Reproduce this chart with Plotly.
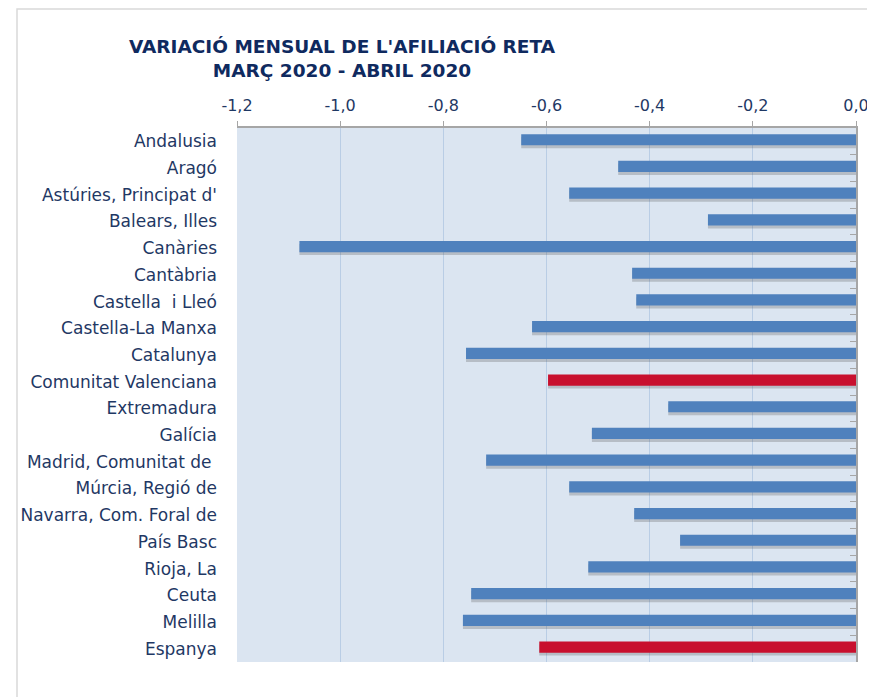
import plotly.graph_objects as go

categories = ["Andalusia", "Aragó", "Astúries, Principat d'", "Balears, Illes", "Canàries",
              "Cantàbria", "Castella  i Lleó", "Castella-La Manxa", "Catalunya",
              "Comunitat Valenciana", "Extremadura", "Galícia", "Madrid, Comunitat de ",
              "Múrcia, Regió de", "Navarra, Com. Foral de", "País Basc", "Rioja, La",
              "Ceuta", "Melilla", "Espanya"]
values = [-0.649, -0.461, -0.556, -0.287, -1.079, -0.434, -0.426, -0.628, -0.756, -0.597,
          -0.364, -0.512, -0.717, -0.556, -0.430, -0.341, -0.519, -0.746, -0.762, -0.614]
highlight = ["Comunitat Valenciana", "Espanya"]
tick_vals = [-1.2, -1.0, -0.8, -0.6, -0.4, -0.2, 0.0]
tick_text = ["-1,2", "-1,0", "-0,8", "-0,6", "-0,4", "-0,2", "0,0"]

BLUE = "#4f81bd"
RED = "#c8102e"
NAVY = "#1f3864"
FONT = "DejaVu Sans"
colors = [RED if c in highlight else BLUE for c in categories]

fig = go.Figure()
# soft shadow under the bars
fig.add_trace(go.Bar(x=values, y=categories, orientation="h", width=0.42, offset=-0.16,
                     marker=dict(color="rgba(70,70,70,0.25)", line=dict(width=0)),
                     hoverinfo="skip", showlegend=False))
fig.add_trace(go.Bar(x=values, y=categories, orientation="h", width=0.42, offset=-0.27,
                     marker=dict(color=colors, line=dict(width=0)), showlegend=False))
# helper trace for the right-hand category axis line and ticks
fig.add_trace(go.Scatter(x=[None], y=[None], yaxis="y2", showlegend=False, hoverinfo="skip"))

fig.update_layout(
    width=867, height=689,
    margin=dict(l=229, r=19, t=120, b=35),
    paper_bgcolor="white", plot_bgcolor="#dbe5f1",
    barmode="overlay",
    font=dict(family=FONT, color=NAVY),
    xaxis=dict(side="top", range=[-1.2, 0.0], tickvals=tick_vals, ticktext=tick_text,
               showgrid=True, gridcolor="#b9cde5", gridwidth=1, zeroline=False,
               showline=True, linecolor="#a6a6a6", linewidth=1.5, ticks="outside",
               ticklen=5, tickcolor="#a6a6a6", tickfont=dict(size=16, color=NAVY),
               ticklabelstandoff=4, fixedrange=True, automargin=False),
    yaxis=dict(autorange="reversed", showgrid=False, zeroline=False, showline=False,
               ticks="", ticklabelstandoff=19, tickfont=dict(size=17, color=NAVY),
               automargin=False),
    yaxis2=dict(overlaying="y", side="right", range=[19.5, -0.5], showgrid=False,
                zeroline=False, showline=True, linecolor="#a6a6a6", linewidth=2,
                ticks="inside", ticklen=6, tickcolor="#a6a6a6",
                tickvals=[i - 0.5 for i in range(21)], showticklabels=False,
                automargin=False),
    title=dict(text="VARIACIÓ MENSUAL DE L'AFILIACIÓ RETA<br>MARÇ 2020 - ABRIL 2020",
               x=334 / 867, xanchor="center", y=1 - 45 / 689, yanchor="middle",
               font=dict(family=FONT, size=18.5, color="#0f2a5f", weight="bold")),
    shapes=[dict(type="rect", xref="paper", yref="paper", x0=-0.3554, x1=1.2,
                 y0=-0.2, y1=1.2228, line=dict(color="#d9d9d9", width=1.5),
                 fillcolor="rgba(0,0,0,0)", layer="below")],
)

fig.write_html("out.html")
